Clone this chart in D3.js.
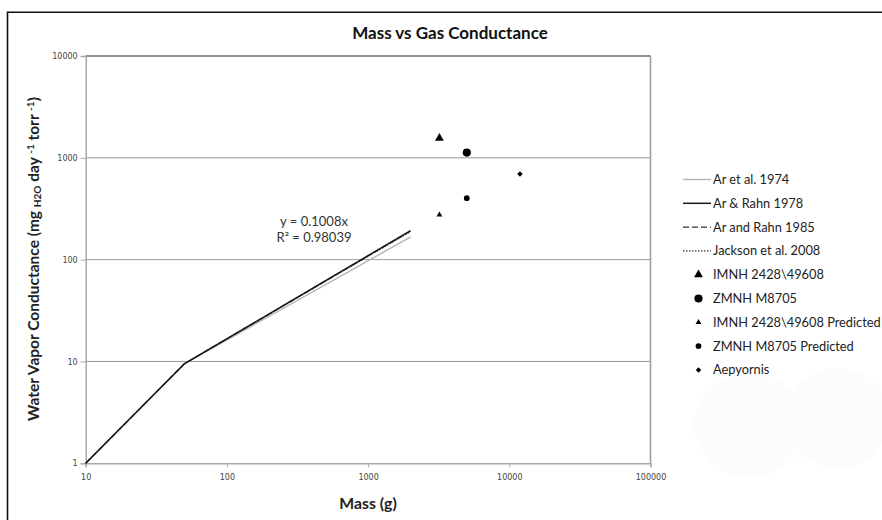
<!DOCTYPE html>
<html>
<head>
<meta charset="utf-8">
<script src="https://cdn.jsdelivr.net/npm/d3@7"></script>
<style>
  body { margin: 0; background: #fff; }
  svg { display: block; }
</style>
</head>
<body>
<svg id="chart" width="882" height="520"></svg>
<script>
// Egg mass (g) at which each published regression line is evaluated
const massPoints = [10, 50, 2000];

// Water vapour conductance along each regression (mg H2O day-1 torr-1)
const arEtAl1974 = [1, 9.5, 167];
const arRahn1978 = [1, 9.5, 193];
const arRahn1985 = [1, 9.5, 191];
const jackson2008 = [1, 9.5, 189];

// Fossil specimens: measured and predicted conductance
const specimenNames = [
  "IMNH 2428\\49608",
  "ZMNH M8705",
  "IMNH 2428\\49608 Predicted",
  "ZMNH M8705 Predicted",
  "Aepyornis"
];
const specimenMass = [3200, 5000, 3200, 5000, 11900];
const specimenConductance = [1560, 1125, 275, 401, 695];

const lineNames = ["Ar et al. 1974", "Ar & Rahn 1978", "Ar and Rahn 1985", "Jackson et al. 2008"];

const xTicks = [10, 100, 1000, 10000, 100000];
const yTicks = [1, 10, 100, 1000, 10000];

const trendEquation = "y = 0.1008x";
const trendR2 = "R² = 0.98039";

const svg = d3.select("#chart");
const FONT = "Lato, 'Open Sans', sans-serif";

// soft pale smudges in the lower right of the sheet
const smudge = svg.append("g").attr("fill", "#fcfcfc");
smudge.append("ellipse").attr("cx", 750).attr("cy", 425).attr("rx", 56).attr("ry", 52);
smudge.append("ellipse").attr("cx", 838).attr("cy", 418).attr("rx", 52).attr("ry", 50);

// outer chart frame (continues beyond the visible sheet)
svg.append("path")
  .attr("d", "M7.5,530 V12.3 H890")
  .attr("fill", "none").attr("stroke", "#111").attr("stroke-width", 1.6);

const x = d3.scaleLog().domain([10, 100000]).range([85.7, 650.5]);
const y = d3.scaleLog().domain([1, 10000]).range([463.3, 56]);

// horizontal gridlines
svg.append("g")
  .selectAll("line")
  .data(yTicks.slice(1, -1))
  .join("line")
  .attr("x1", x.range()[0]).attr("x2", x.range()[1])
  .attr("y1", d => y(d)).attr("y2", d => y(d))
  .attr("stroke", "#9a9a9a").attr("stroke-width", 1);

// plot border
svg.append("line")
  .attr("x1", x.range()[0]).attr("x2", x.range()[1])
  .attr("y1", y(10000)).attr("y2", y(10000))
  .attr("stroke", "#8c8c8c").attr("stroke-width", 2);
svg.append("line")
  .attr("x1", x(100000)).attr("x2", x(100000))
  .attr("y1", y(10000)).attr("y2", y(1))
  .attr("stroke", "#9a9a9a").attr("stroke-width", 1.5);

// axes
const xAxis = d3.axisBottom(x)
  .tickValues(xTicks)
  .tickFormat(d3.format("d"))
  .tickSize(4)
  .tickPadding(7);
const gx = svg.append("g").attr("transform", `translate(0,${y(1)})`).call(xAxis);

const yAxis = d3.axisLeft(y)
  .tickValues(yTicks)
  .tickFormat(d3.format("d"))
  .tickSize(5)
  .tickPadding(3);
const gy = svg.append("g").attr("transform", `translate(${x(10)},0)`).call(yAxis);

[gx, gy].forEach(g => {
  g.select(".domain").attr("stroke", "#a8a8a8").attr("stroke-width", 1.5);
  g.selectAll(".tick line").attr("stroke", "#a8a8a8").attr("stroke-width", 1);
  g.selectAll(".tick text")
    .attr("fill", "#444")
    .attr("font-family", "'DejaVu Sans', Verdana, sans-serif")
    .attr("font-size", 8);
});

// regression lines
const series = [
  { name: lineNames[0], values: arEtAl1974, stroke: "#b4b4b4", width: 1.4, dash: null },
  { name: lineNames[3], values: jackson2008, stroke: "#333", width: 1.2, dash: "1.5,1.5" },
  { name: lineNames[2], values: arRahn1985, stroke: "#333", width: 1.3, dash: "6,3" },
  { name: lineNames[1], values: arRahn1978, stroke: "#1a1a1a", width: 1.5, dash: null }
];
const line = d3.line()
  .x((d, i) => x(massPoints[i]))
  .y(d => y(d));

svg.append("g")
  .selectAll("path")
  .data(series)
  .join("path")
  .attr("d", s => line(s.values))
  .attr("fill", "none")
  .attr("stroke", s => s.stroke)
  .attr("stroke-width", s => s.width)
  .attr("stroke-dasharray", s => s.dash);

// specimen marker styles
const markerStyles = [
  { type: d3.symbolTriangle, size: 34, rotate: 0 },
  { type: d3.symbolCircle, size: 52, rotate: 0 },
  { type: d3.symbolTriangle, size: 15, rotate: 0 },
  { type: d3.symbolCircle, size: 26, rotate: 0 },
  { type: d3.symbolSquare, size: 15, rotate: 45 }
];

svg.append("g")
  .selectAll("path")
  .data(specimenNames.map((n, i) => ({ name: n, mass: specimenMass[i], g: specimenConductance[i], style: markerStyles[i] })))
  .join("path")
  .attr("transform", d => `translate(${x(d.mass)},${y(d.g)}) rotate(${d.style.rotate})`)
  .attr("d", d => d3.symbol().type(d.style.type).size(d.style.size)())
  .attr("fill", "#000");

// trendline equation
const eq = svg.append("text")
  .attr("x", 314).attr("text-anchor", "middle")
  .attr("font-family", FONT).attr("font-size", 13).attr("fill", "#333");
eq.append("tspan").attr("x", 314).attr("y", 226).text(trendEquation);
eq.append("tspan").attr("x", 314).attr("y", 242).text(trendR2);

// title
svg.append("text")
  .attr("x", 450).attr("y", 39)
  .attr("text-anchor", "middle")
  .attr("font-family", FONT).attr("font-weight", "bold")
  .attr("font-size", 17).attr("fill", "#111")
  .text("Mass vs Gas Conductance");

// x-axis title
svg.append("text")
  .attr("x", 368).attr("y", 509)
  .attr("text-anchor", "middle")
  .attr("font-family", FONT).attr("font-weight", "bold")
  .attr("font-size", 15.8).attr("fill", "#222")
  .text("Mass (g)");

// y-axis title with sub/superscripts
const yt = svg.append("text")
  .attr("transform", "translate(39,259) rotate(-90)")
  .attr("text-anchor", "middle")
  .attr("font-family", FONT).attr("font-weight", "bold")
  .attr("font-size", 15.5).attr("fill", "#222");
yt.append("tspan").text("Water Vapor Conductance (mg ");
yt.append("tspan").attr("font-size", 10).attr("dy", 2).text("H2O");
yt.append("tspan").attr("dy", -2).text(" day ");
yt.append("tspan").attr("font-size", 10).attr("dy", -5).text("-1");
yt.append("tspan").attr("dy", 5).text(" torr ");
yt.append("tspan").attr("font-size", 10).attr("dy", -5).text("-1");
yt.append("tspan").attr("dy", 5).text(")");

// legend
const legend = svg.append("g").attr("font-family", FONT).attr("font-size", 12.8).attr("fill", "#222");
const rowY = i => 179.5 + i * 23.8;
const lineLegend = [series[0], series[3], series[2], series[1]];
lineLegend.forEach((s, i) => {
  legend.append("line")
    .attr("x1", 683).attr("x2", 711)
    .attr("y1", rowY(i)).attr("y2", rowY(i))
    .attr("stroke", s.stroke).attr("stroke-width", s.width)
    .attr("stroke-dasharray", s.dash);
  legend.append("text").attr("x", 713).attr("y", rowY(i) + 4.5).text(s.name);
});
specimenNames.forEach((n, i) => {
  const r = rowY(i + 4);
  const st = markerStyles[i];
  legend.append("path")
    .attr("transform", `translate(698.5,${r}) rotate(${st.rotate})`)
    .attr("d", d3.symbol().type(st.type).size(st.size)())
    .attr("fill", "#000");
  legend.append("text").attr("x", 713).attr("y", r + 4.5).text(n);
});
</script>
</body>
</html>
